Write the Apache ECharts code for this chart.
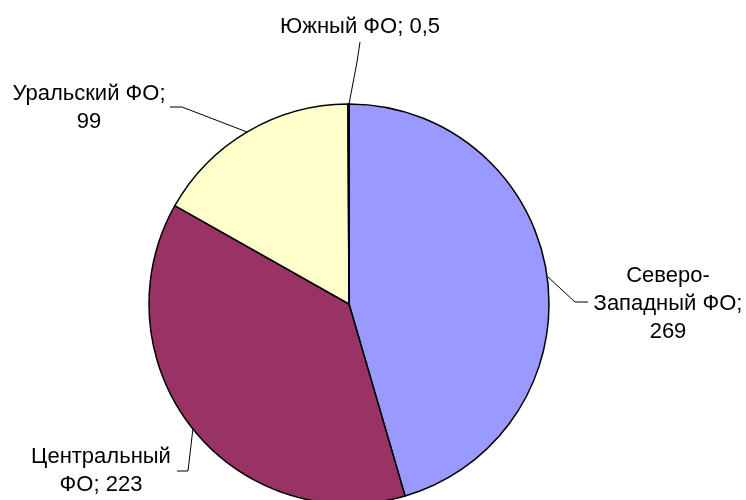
<!DOCTYPE html>
<html>
<head>
<meta charset="utf-8">
<script src="https://cdn.jsdelivr.net/npm/echarts@6/dist/echarts.min.js"></script>
<style>
  html, body { margin: 0; padding: 0; background: #fff; }
  #chart { width: 746px; height: 500px; }
</style>
</head>
<body>
<div id="chart"></div>
<script>
// district names and values (clockwise from 12 o'clock)
var names = ['Северо-Западный ФО', 'Центральный ФО', 'Уральский ФО', 'Южный ФО'];
var values = [269, 223, 99, 0.5];
var colors = ['#9999FF', '#993366', '#FFFFCC', '#CCFFFF'];

// label text with the same line breaks as the picture
var labelText = ['Северо-\nЗападный ФО;\n', 'Центральный\nФО; ', 'Уральский ФО;\n', 'Южный ФО; '];

// label centres and leader lines (pixels)
var labelPos = [[668, 304], [101, 471], [89, 108], [360, 27]];
var leaders = [
  [[548, 277], [575, 302], [588, 302]],
  [[193, 428], [188, 471], [177, 471]],
  [[247, 132], [182, 107], [170, 107]],
  [[349, 104], [357, 62], [360, 42]]
];

function fmt(v) {
  return String(v).replace('.', ',');
}

var myChart = echarts.init(document.getElementById('chart'));
var option = {
  animation: false,
  color: colors,
  series: [{
    type: 'pie',
    center: [349, 304],
    radius: 200,
    startAngle: 90,
    clockwise: true,
    minAngle: 0,
    avoidLabelOverlap: false,
    itemStyle: {
      borderColor: '#000',
      borderWidth: 1.5
    },
    label: {
      show: true,
      position: 'outside',
      color: '#000',
      fontFamily: 'Liberation Sans, Arial, sans-serif',
      fontSize: 22,
      lineHeight: 28,
      align: 'center',
      formatter: function (p) {
        return labelText[p.dataIndex] + fmt(p.value);
      }
    },
    labelLine: {
      show: true,
      lineStyle: { color: '#000', width: 1 }
    },
    labelLayout: function (p) {
      var i = p.dataIndex;
      return {
        x: labelPos[i][0],
        y: labelPos[i][1],
        align: 'center',
        verticalAlign: 'middle',
        labelLinePoints: leaders[i]
      };
    },
    emphasis: { disabled: true },
    data: names.map(function (n, i) {
      return { name: n, value: values[i] };
    })
  }]
};
myChart.setOption(option);
</script>
</body>
</html>
